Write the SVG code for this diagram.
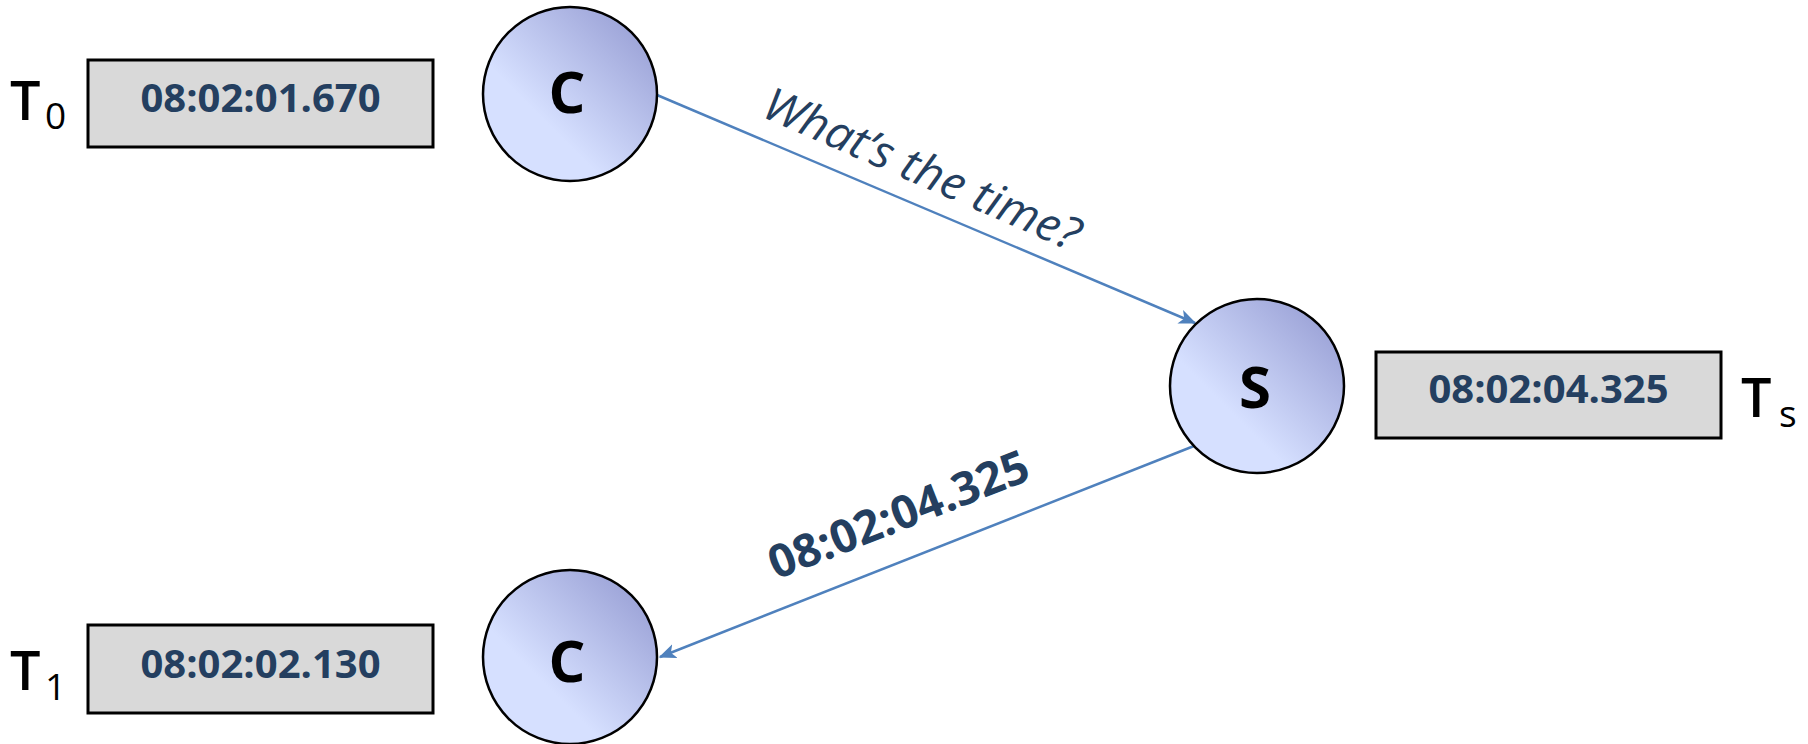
<svg xmlns="http://www.w3.org/2000/svg" width="1808" height="744" viewBox="0 0 1808 744">
  <style>
    .box { fill: #D9D9D9; stroke: #000; stroke-width: 3; }
    .stamp { font-family: "Open Sans", "Liberation Sans", sans-serif; font-weight: bold; font-size: 40px; fill: #243F60; text-anchor: middle; }
    .node { fill: url(#nodeFill); stroke: #000; stroke-width: 2.5; }
    .letter { font-family: "Open Sans", "Liberation Sans", sans-serif; font-weight: bold; font-size: 58px; fill: #000; text-anchor: middle; }
    .tlabel { font-family: "Open Sans", "Liberation Sans", sans-serif; font-weight: 600; font-size: 54px; fill: #000; }
    .tsub { font-family: "Open Sans", "Liberation Sans", sans-serif; font-weight: 500; font-size: 37px; fill: #000; }
    .msg { stroke: #4F81BD; stroke-width: 2.5; fill: none; marker-end: url(#head); }
    .ask { font-family: "Open Sans", "Liberation Sans", sans-serif; font-style: italic; font-size: 46px; fill: #243F60; }
    .reply { font-family: "Open Sans", "Liberation Sans", sans-serif; font-weight: bold; font-size: 46px; fill: #243F60; }
  </style>
  <defs>
    <linearGradient id="nodeFill" x1="0.9" y1="0.1" x2="0.35" y2="0.65">
      <stop offset="0" stop-color="#9AA1D6"/>
      <stop offset="1" stop-color="#D6E0FF"/>
    </linearGradient>
    <marker id="head" viewBox="0 0 12 10" refX="11" refY="5" markerWidth="7" markerHeight="6" orient="auto" markerUnits="strokeWidth">
      <path d="M0,0 L12,5 L0,10 L3,5 z" fill="#4F81BD"/>
    </marker>
  </defs>

  <rect width="1808" height="744" fill="#fff"/>

  <!-- message arrows -->
  <g id="connectors">
    <line class="msg" x1="657" y1="95" x2="1195" y2="323"/>
    <line class="msg" x1="1194" y1="446" x2="660" y2="657"/>
    <text class="ask" transform="translate(760,116) rotate(23.5)" textLength="340" lengthAdjust="spacingAndGlyphs">What’s the time?</text>
    <text class="reply" transform="translate(776,580) rotate(-21.5)" textLength="276" lengthAdjust="spacingAndGlyphs">08:02:04.325</text>
  </g>

  <!-- client at send time -->
  <g id="t0">
    <text class="tlabel" x="10" y="120">T</text>
    <text class="tsub" x="45" y="129">0</text>
    <rect class="box" x="88" y="60" width="345" height="87"/>
    <text class="stamp" x="260.5" y="112">08:02:01.670</text>
  </g>
  <g id="client-send">
    <circle class="node" cx="570" cy="94" r="87"/>
    <text class="letter" x="567" y="113">C</text>
  </g>

  <!-- server -->
  <g id="server">
    <circle class="node" cx="1257" cy="386" r="87"/>
    <text class="letter" x="1255" y="408">S</text>
  </g>
  <g id="ts">
    <rect class="box" x="1376" y="352" width="345" height="86"/>
    <text class="stamp" x="1548.5" y="403">08:02:04.325</text>
    <text class="tlabel" x="1741" y="417">T</text>
    <text class="tsub" x="1779" y="427">s</text>
  </g>

  <!-- client at receive time -->
  <g id="client-receive">
    <circle class="node" cx="570" cy="657" r="87"/>
    <text class="letter" x="567" y="682">C</text>
  </g>
  <g id="t1">
    <text class="tlabel" x="10" y="690">T</text>
    <text class="tsub" x="45" y="700">1</text>
    <rect class="box" x="88" y="625" width="345" height="88"/>
    <text class="stamp" x="260.5" y="678">08:02:02.130</text>
  </g>
</svg>
